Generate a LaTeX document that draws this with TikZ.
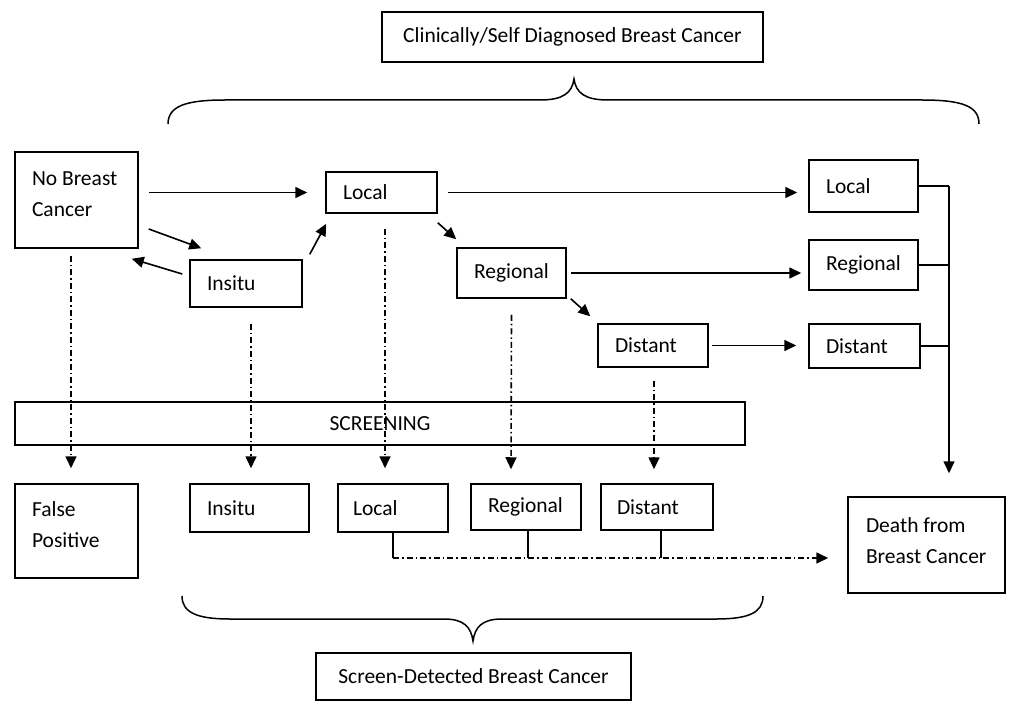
\documentclass[tikz,border=0pt]{standalone}
\usepackage{fontspec}
\setmainfont{Carlito}
\usetikzlibrary{arrows.meta}
\begin{document}
\begin{tikzpicture}[x=1pt,y=-1pt,
  every node/.style={font=\fontsize{21.5}{31}\selectfont},
  box/.style={draw, line width=1.5pt, inner xsep=17pt, inner ysep=0pt, align=flush left},
  cbox/.style={draw, line width=1.5pt, inner sep=0pt, align=center},
  arr/.style={line width=1.6pt, -{Triangle[length=12pt,width=11pt]}},
  ln/.style={line width=1.6pt},
  dd/.style={line width=1.3pt, dash pattern=on 6pt off 3pt on 1.5pt off 3pt},
  brace/.style={line width=1.5pt}]
\useasboundingbox (0,0) rectangle (1016,703);
\newcommand{\lift}[1]{\rule[-#1]{0pt}{0pt}}

% group labels
\node[cbox, minimum width=381pt, minimum height=50pt] (cdbc) at (572.5,37) {Clinically/Self Diagnosed Breast Cancer};
\node[cbox, minimum width=315pt, minimum height=47pt] (sdbc) at (473.5,676.5) {Screen-Detected Breast Cancer};

% natural history states
\node[box, text width=89pt, minimum height=96pt] (nobc) at (76.5,200) {No Breast\\Cancer\lift{12pt}};
\node[box, text width=77pt, minimum height=41pt] (loc1) at (381.5,192.5) {Local};
\node[box, text width=78pt, minimum height=47pt] (ins1) at (246,283.5) {Insitu};
\node[box, text width=75pt, minimum height=50pt] (reg1) at (511.5,273) {Regional};
\node[box, text width=76pt, minimum height=43pt] (dis1) at (653,345.5) {Distant};

% clinically diagnosed states
\node[box, text width=75pt, minimum height=52pt] (loc2) at (863.5,186) {Local};
\node[box, text width=75pt, minimum height=50pt] (reg2) at (863.5,265) {Regional};
\node[box, text width=77pt, minimum height=44pt] (dis2) at (864.5,346) {Distant};

% screening bar
\node[cbox, minimum width=730pt, minimum height=43pt] (scr) at (380,423.5) {SCREENING};

% screen-detected states
\node[box, text width=89pt, minimum height=94pt] (fp) at (76.5,531) {False\\Positive\lift{12pt}};
\node[box, text width=85pt, minimum height=48pt] (ins2) at (249.5,508) {Insitu};
\node[box, inner xsep=15pt, text width=80pt, minimum height=48pt] (loc3) at (393,508) {Local};
\node[box, text width=76pt, minimum height=46pt] (reg3) at (526,507) {Regional};
\node[box, inner xsep=16pt, text width=80pt, minimum height=46pt] (dis3) at (657,507) {Distant};
\node[box, inner xsep=18pt, text width=121pt, minimum height=96pt] (death) at (926.5,545) {Death from\\Breast Cancer\lift{8pt}};

% braces
\draw[brace] (168,124) .. controls (168,106) and (186,100) .. (225,100) -- (540,100)
  .. controls (563,100) and (572,93) .. (574,79)
  .. controls (576,93) and (585,100) .. (608,100) -- (922,100)
  .. controls (962,100) and (979,106) .. (979,124);
\draw[brace] (182,596) .. controls (182,613) and (198,619) .. (230,619) -- (444,619)
  .. controls (464,619) and (471,627) .. (473,641)
  .. controls (475,627) and (482,619) .. (502,619) -- (716,619)
  .. controls (748,619) and (763,613) .. (763,596);

% progression
\draw[arr, shorten <=10pt, shorten >=18pt] (nobc.east |- loc1.west) -- (loc1.west);
\draw[arr, shorten <=10pt, shorten >=11pt] (loc1.east) -- (loc1.east -| loc2.west);
\draw[arr, shorten <=4pt, shorten >=7pt] (reg1.east) -- (reg1.east -| reg2.west);
\draw[arr, shorten <=3pt, shorten >=12pt] (dis1.east) -- (dis1.east -| dis2.west);
\draw[arr] ([xshift=10pt,yshift=-29pt]nobc.east) -- ([xshift=12pt,yshift=11pt]ins1.north west);
\draw[arr] ([xshift=-7pt,yshift=9.5pt]ins1.west) -- ([xshift=-7pt,yshift=-10pt]nobc.south east);
\draw[arr] ([xshift=7pt,yshift=5pt]ins1.north east) -- ([xshift=1pt,yshift=-10pt]loc1.south west);
\draw[arr] ([yshift=-9pt]loc1.south east) -- ([yshift=8pt]reg1.north west);
\draw[arr] ([xshift=4pt]reg1.south east) -- ([xshift=-7pt,yshift=7pt]dis1.north west);

% collector to death
\coordinate (bus) at (949,0);
\draw[ln] (loc2.east) -- (loc2.east -| bus);
\draw[ln] (reg2.east) -- (reg2.east -| bus);
\draw[ln] (dis2.east) -- (dis2.east -| bus);
\draw[arr, shorten >=23pt] (loc2.east -| bus) -- (bus |- death.north);

% screening outcomes
\draw[dd, arr] ([xshift=-5.5pt,yshift=-7pt]nobc.south) -- ([xshift=-5.5pt,yshift=15pt]fp.north);
\draw[dd, arr] ([xshift=5pt,yshift=-16pt]ins1.south) -- ([xshift=1.5pt,yshift=15pt]ins2.north);
\draw[dd, arr] ([xshift=3.5pt,yshift=-15pt]loc1.south) -- ([xshift=-8pt,yshift=15pt]loc3.north);
\draw[dd, arr] ([yshift=-16pt]reg1.south) -- ([xshift=-15pt,yshift=14pt]reg3.north);
\draw[dd, arr] ([xshift=1pt,yshift=-13pt]dis1.south) -- ([xshift=-3pt,yshift=14pt]dis3.north);

% screen-detected to death
\coordinate (sbus) at (0,558);
\draw[ln] (loc3.south) -- (loc3.south |- sbus);
\draw[ln] ([xshift=2pt]reg3.south) -- ([xshift=2pt]reg3.south |- sbus);
\draw[ln] ([xshift=4pt]dis3.south) -- ([xshift=4pt]dis3.south |- sbus);
\draw[dd, arr, shorten >=19pt] (loc3.south |- sbus) -- (death.west |- sbus);
\end{tikzpicture}
\end{document}
